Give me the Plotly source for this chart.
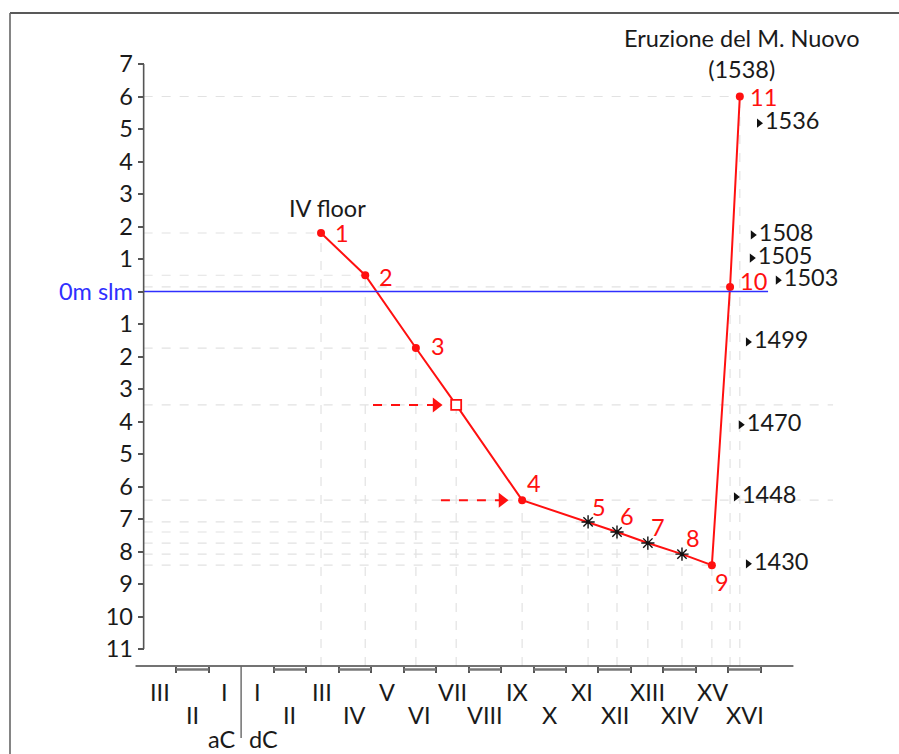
import plotly.graph_objects as go

# ---------------- data ----------------
point_labels = ["1", "2", "3", "", "4", "5", "6", "7", "8", "9", "10", "11"]
point_years = [246, 382, 538, 662, 865, 1068, 1157, 1252, 1357, 1449, 1505, 1535]
point_levels = [1.8, 0.5, -1.74, -3.49, -6.42, -7.09, -7.40, -7.74, -8.08, -8.42, 0.14, 6.0]
point_kinds = ["dot", "dot", "dot", "square", "dot", "star", "star", "star", "star", "dot", "dot", "dot"]

year_labels = ["1536", "1508", "1505", "1503", "1499", "1470", "1448", "1430"]
year_label_x = [1594, 1575, 1572, 1652, 1560, 1538, 1523, 1560]
year_label_y = [5.18, 1.74, 1.03, 0.35, -1.55, -4.10, -6.32, -8.38]

centuries_aC = ["III", "II", "I"]
centuries_dC = ["I", "II", "III", "IV", "V", "VI", "VII", "VIII", "IX", "X",
                "XI", "XII", "XIII", "XIV", "XV", "XVI"]
y_tick_values = list(range(-11, 8))

# ---------------- layout constants ----------------
FONT = "Lato"
FS = 23.5
RED = "#ff1010"
BLUE = "#2f2fff"
GRID = "#e2e2e2"
AX = "#555555"
TXT = "#1a1a1a"
W, H = 899, 754
ML, MR, MT, MB = 130, 0, 20, 88
XR = [-342, 2025]
YR = [-11.523, 8.354]
PH = H - MT - MB
PW = W - ML - MR


def paper_x(px):
    return (px - ML) / PW


def paper_y(py):
    return (H - MB - py) / PH


fig = go.Figure()

# main red line
fig.add_trace(go.Scatter(x=point_years, y=point_levels, mode="lines",
                         line=dict(color=RED, width=2), hoverinfo="skip", showlegend=False))

# markers by kind
marker_style = {
    "dot": dict(symbol="circle", size=8, color=RED, line=dict(width=0)),
    "square": dict(symbol="square", size=10, color="white", line=dict(color=RED, width=1.8)),
    "star": dict(symbol="asterisk-open", size=11, color="#111111", line=dict(color="#111111", width=1.4)),
}
for kind, style in marker_style.items():
    xs = [x for x, k in zip(point_years, point_kinds) if k == kind]
    ys = [y for y, k in zip(point_levels, point_kinds) if k == kind]
    fig.add_trace(go.Scatter(x=xs, y=ys, mode="markers", marker=style,
                             showlegend=False, hoverinfo="skip"))

# red number labels
label_shift = [(21, 0), (21, -2), (22, 2), (0, 0), (12, 17), (11, 15), (10, 16), (10, 16),
               (11, 16), (10, -17), (23, 6), (24, 0)]
for lab, x, y, (dx, dy) in zip(point_labels, point_years, point_levels, label_shift):
    if lab:
        fig.add_annotation(x=x, y=y, text=lab, showarrow=False, xshift=dx, yshift=dy,
                           font=dict(family=FONT, size=FS, color=RED))

# year labels with small triangles
fig.add_trace(go.Scatter(
    x=year_label_x, y=year_label_y, mode="markers+text", text=year_labels,
    textposition="middle right", cliponaxis=False,
    marker=dict(symbol="triangle-right", size=8, color="#111111"),
    textfont=dict(family=FONT, size=FS, color=TXT),
    showlegend=False, hoverinfo="skip"))

# red dashed arrows pointing to the square and to point 4
for target in (3, 4):
    tx, ty = point_years[target], point_levels[target]
    start = tx - 256 if target == 3 else tx - 250
    fig.add_trace(go.Scatter(x=[start, tx - 45], y=[ty, ty], mode="lines",
                             line=dict(color=RED, width=2, dash="dash"),
                             showlegend=False, hoverinfo="skip"))
    fig.add_trace(go.Scatter(x=[tx - 62], y=[ty], mode="markers",
                             marker=dict(symbol="triangle-right", size=13, color=RED),
                             showlegend=False, hoverinfo="skip"))

shapes = []
Y_AXIS_X = -300
EXT = 1822
# dashed guide lines
for i, (x, y) in enumerate(zip(point_years, point_levels)):
    x_end = EXT if i in (3, 4) else x
    shapes.append(dict(type="line", xref="x", yref="y", x0=Y_AXIS_X, x1=x_end, y0=y, y1=y,
                       line=dict(color=GRID, width=1.2, dash="dash"), layer="below"))
    shapes.append(dict(type="line", xref="x", yref="y", x0=x, x1=x, y0=YR[0], y1=y,
                       line=dict(color=GRID, width=1.2, dash="dash"), layer="below"))
# sea level line
shapes.append(dict(type="line", xref="x", yref="y", x0=Y_AXIS_X, x1=1622, y0=0, y1=0,
                   line=dict(color=BLUE, width=1.6)))
# y axis line
shapes.append(dict(type="line", xref="x", yref="y", x0=Y_AXIS_X, x1=Y_AXIS_X, y0=-11, y1=7,
                   line=dict(color=AX, width=1.6)))
# x axis line
shapes.append(dict(type="line", xref="x", yref="paper", x0=-325, x1=1700, y0=0, y1=0,
                   line=dict(color="#444444", width=1.6)))
# century brackets on even centuries
bars = [-200] + [100 + 200 * k for k in range(8)]
for b in bars:
    shapes.append(dict(type="line", xref="x", yref="paper", x0=b, x1=b + 100,
                       y0=-3.5 / PH, y1=-3.5 / PH, line=dict(color="#777777", width=2.5)))
# aC / dC divider
shapes.append(dict(type="line", xref="x", yref="paper", x0=0, x1=0, y0=0, y1=-72 / PH,
                   line=dict(color="#666666", width=1.4)))
# frame (top & left)
shapes.append(dict(type="line", xref="paper", yref="paper", x0=paper_x(10), x1=paper_x(W),
                   y0=paper_y(13), y1=paper_y(13), line=dict(color="#222222", width=1.6)))
shapes.append(dict(type="line", xref="paper", yref="paper", x0=paper_x(10), x1=paper_x(10),
                   y0=paper_y(13), y1=paper_y(H), line=dict(color="#666666", width=1.6)))

# century labels
all_centuries = [(-300 + 100 * i + 50, c, len(centuries_aC) - i) for i, c in enumerate(centuries_aC)] + \
                [(100 * i + 50, c, i + 1) for i, c in enumerate(centuries_dC)]
for mid, lab, num in all_centuries:
    row_shift = -26 if num % 2 == 1 else -49
    fig.add_annotation(x=mid, y=0, xref="x", yref="paper", text=lab, showarrow=False,
                       yanchor="middle", yshift=row_shift,
                       font=dict(family=FONT, size=FS, color=TXT))
fig.add_annotation(x=0, y=0, xref="x", yref="paper", text="aC", showarrow=False,
                   xanchor="right", xshift=-4, yanchor="middle", yshift=-73,
                   font=dict(family=FONT, size=FS, color=TXT))
fig.add_annotation(x=0, y=0, xref="x", yref="paper", text="dC", showarrow=False,
                   xanchor="left", xshift=6, yanchor="middle", yshift=-73,
                   font=dict(family=FONT, size=FS, color=TXT))

# titles
fig.add_annotation(x=point_years[-1], y=7, text="Eruzione del M. Nuovo<br>(1538)", showarrow=False,
                   yanchor="middle", yshift=11, xshift=2,
                   font=dict(family=FONT, size=FS, color=TXT))
fig.add_annotation(x=point_years[0], y=point_levels[0], text="IV floor", showarrow=False,
                   yanchor="middle", yshift=25, xshift=6,
                   font=dict(family=FONT, size=FS, color=TXT))

y_tick_text = [f"<span style='color:{BLUE}'>0m slm</span>" if v == 0 else str(abs(v))
               for v in y_tick_values]

fig.update_layout(
    width=W, height=H, margin=dict(l=ML, r=MR, t=MT, b=MB, pad=0),
    paper_bgcolor="white", plot_bgcolor="white",
    font=dict(family=FONT, size=FS, color=TXT),
    shapes=shapes, showlegend=False,
    xaxis=dict(range=XR, showgrid=False, zeroline=False, showline=False,
               tickmode="array", tickvals=[-200, -100] + list(range(100, 1700, 100)),
               ticks="outside", ticklen=6, tickwidth=1.5, tickcolor=AX,
               showticklabels=False, fixedrange=True),
    yaxis=dict(range=YR, showgrid=False, zeroline=False, showline=False,
               anchor="free", position=(Y_AXIS_X - XR[0]) / (XR[1] - XR[0]),
               tickmode="array", tickvals=y_tick_values, ticktext=y_tick_text,
               ticks="outside", ticklen=6, tickwidth=1.5, tickcolor=AX,
               tickfont=dict(family=FONT, size=FS, color=TXT), fixedrange=True),
)

fig.write_html("out.html")
